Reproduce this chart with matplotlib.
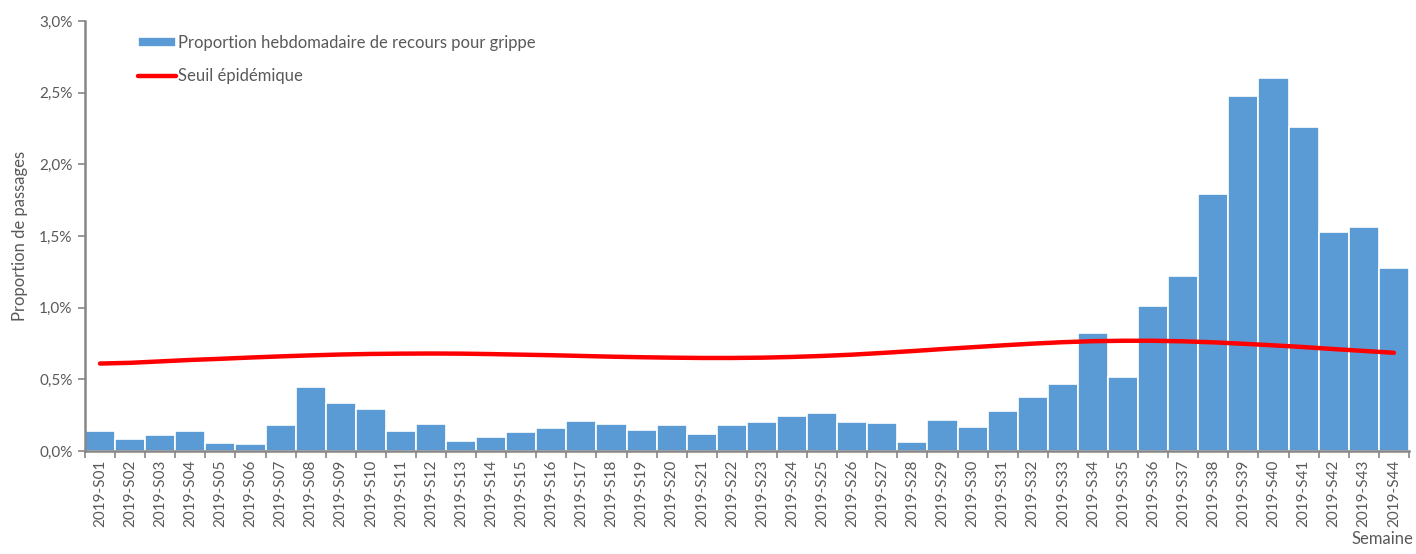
import numpy as np
import matplotlib
matplotlib.use('Agg')
import matplotlib.pyplot as plt
from matplotlib.ticker import FixedLocator, FuncFormatter

plt.rcParams['font.family'] = ['Lato', 'DejaVu Sans']

# Data (values in %)
weeks = [f'2019-S{i:02d}' for i in range(1, 45)]
proportion = [0.14, 0.08, 0.11, 0.14, 0.055, 0.05, 0.18, 0.445, 0.335, 0.29,
              0.14, 0.19, 0.07, 0.095, 0.13, 0.16, 0.21, 0.19, 0.145, 0.18,
              0.12, 0.18, 0.20, 0.245, 0.265, 0.20, 0.195, 0.06, 0.215, 0.165,
              0.28, 0.375, 0.465, 0.82, 0.515, 1.01, 1.22, 1.79, 2.475, 2.60,
              2.26, 1.53, 1.56, 1.28]
seuil = [0.61, 0.615, 0.625, 0.635, 0.643, 0.652, 0.660, 0.667, 0.673, 0.677,
         0.679, 0.68, 0.679, 0.676, 0.672, 0.668, 0.663, 0.658, 0.654, 0.651,
         0.649, 0.649, 0.651, 0.656, 0.663, 0.672, 0.684, 0.697, 0.711, 0.724,
         0.737, 0.749, 0.759, 0.766, 0.769, 0.769, 0.765, 0.758, 0.748, 0.737,
         0.725, 0.711, 0.698, 0.685]

grey = '#595959'
axis_grey = '#868686'

fig = plt.figure(figsize=(14.16, 5.54), dpi=100)
ax = fig.add_axes([0.060, 0.186, 0.935, 0.776])

x = np.arange(len(weeks))
bars = ax.bar(x, proportion, width=1.0, color='#5B9BD5', edgecolor='white', linewidth=1.2,
              label='Proportion hebdomadaire de recours pour grippe', zorder=2)
line, = ax.plot(x, seuil, color='#FF0000', linewidth=3.2, solid_capstyle='round',
                label='Seuil épidémique', zorder=3)

ax.set_xlim(-0.5, len(weeks) - 0.5)
ax.set_ylim(0, 3.0)

ax.set_yticks(np.arange(0, 3.01, 0.5))
ax.yaxis.set_major_formatter(FuncFormatter(lambda v, p: f'{v:.1f}%'.replace('.', ',')))

ax.set_xticks(x)
ax.set_xticklabels(weeks, rotation=90)
ax.xaxis.set_minor_locator(FixedLocator(np.arange(-0.5, len(weeks), 1.0)))
ax.tick_params(axis='x', which='major', length=0, pad=6, labelsize=11, labelcolor=grey)
ax.tick_params(axis='x', which='minor', length=5, width=1.2, color=axis_grey)
ax.tick_params(axis='y', length=5, width=1.2, color=axis_grey, labelsize=11, labelcolor=grey, pad=4)

for s in ['top', 'right']:
    ax.spines[s].set_visible(False)
for s in ['left', 'bottom']:
    ax.spines[s].set_color(axis_grey)
    ax.spines[s].set_linewidth(1.8)

ax.set_ylabel('Proportion de passages', fontsize=12, color=grey, labelpad=8)
fig.text(0.998, 0.012, 'Semaine', ha='right', va='bottom', fontsize=12, color=grey)

leg = ax.legend(handles=[bars, line], loc='upper left', bbox_to_anchor=(0.029, 1.003),
                frameon=False, fontsize=12, labelcolor=grey, handlelength=2.25,
                handleheight=0.55, handletextpad=0.15, labelspacing=1.05)

fig.savefig('out.png', dpi=100, facecolor='white')
